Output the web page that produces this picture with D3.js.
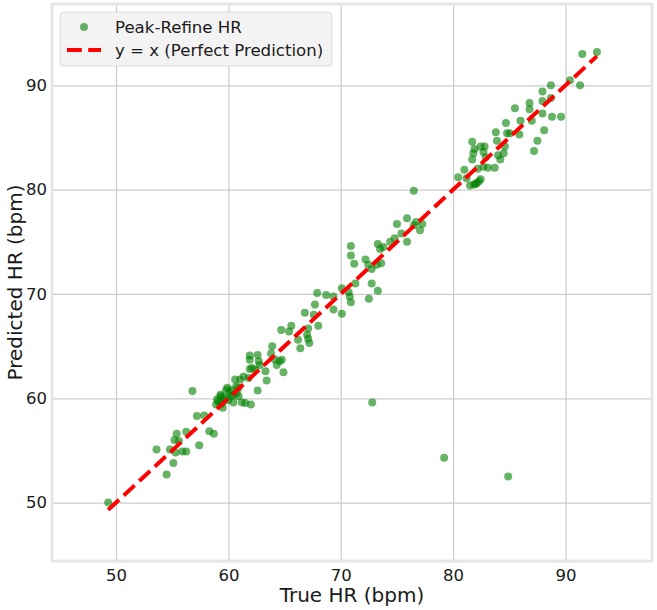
<!DOCTYPE html>
<html>
<head>
<meta charset="utf-8">
<script src="https://cdn.jsdelivr.net/npm/d3@7"></script>
<style>
body { margin: 0; background: #fff; }
svg { font-family: "DejaVu Sans", sans-serif; }
</style>
</head>
<body>
<svg width="657" height="610"></svg>
<script>
// true heart rate readings (x) and Peak-Refine predictions (y)
var trueHR = [
  49.3, 53.6, 54.5, 55.1, 54.8, 55.4, 55.2, 55.6, 56.25, 55.3, 55.9, 56.25, 57.4, 56.8, 57.2, 57.85,
  58.3, 58.7, 58.9, 59.1, 59.5, 59.3, 59.8, 60.2, 60.6, 60.45, 60.9,
  59.0, 59.9, 59.3, 59.3, 59.7, 60.3, 60.7, 60.75, 61.05, 61.2, 61.5, 62.0, 61.35, 61.8, 62.6,
  61.9, 61.9, 62.6, 62.7, 61.9, 62.4, 63.3, 63.4, 62.8, 63.9, 63.8, 64.1, 64.55, 64.75, 64.9, 64.3,
  64.7, 65.4, 65.6, 66.2, 66.4, 67.1, 67.2, 67.0, 66.8, 67.7, 67.9, 68.0, 68.7, 67.6, 67.1,
  69.35, 69.35, 70.1, 70.1, 70.7, 70.8, 70.9, 71.3, 70.9, 70.9, 71.2, 72.2, 72.45, 72.75, 72.75,
  72.5, 73.3, 73.2, 73.6, 73.3, 73.5, 73.8, 74.4, 74.8, 75.0, 75.4, 75.9, 75.9, 76.5, 76.7, 77.05,
  77.25, 76.5,
  80.45, 81.0, 81.2, 81.5, 81.85, 82.1, 82.45, 81.7, 81.9, 81.8, 81.7, 82.45, 82.8, 82.7, 82.2,
  82.7, 83.1, 83.7, 82.9, 84.0, 84.2, 84.5, 84.6, 83.9, 83.8, 84.7, 84.8, 85.05, 85.5, 85.9, 86.0,
  86.8, 86.8, 87.0, 87.2, 87.5, 88.1, 87.95, 87.95, 87.95, 88.7, 88.7, 88.8, 89.6, 90.4, 91.3,
  91.5, 92.8,
  59.6, 60.0, 60.4, 59.45, 60.1, 60.9, 62.1, 82.0, 82.3,
  72.8, 79.2, 84.9
];
var predHR = [
  50.0, 55.1, 52.7, 53.8, 55.1, 56.6, 56.0, 55.9, 56.8, 54.8, 54.9, 54.9, 55.5, 60.7, 58.3, 58.35,
  56.85, 56.6, 59.4, 59.7, 59.1, 60.35, 60.8, 60.2, 61.8, 59.6, 61.0,
  59.9, 61.0, 60.2, 59.4, 59.9, 60.8, 61.15, 60.5, 61.8, 59.6, 59.55, 59.4, 62.1, 61.95, 60.75,
  64.1, 63.7, 64.15, 63.55, 62.8, 62.75, 62.6, 61.7, 63.2, 65.0, 64.3, 63.75, 63.55, 63.7, 62.5, 63.2,
  66.55, 66.4, 66.95, 65.6, 64.8, 65.7, 65.3, 66.1, 68.2, 69.0, 70.1, 66.95, 69.9, 68.0, 66.7,
  69.75, 68.5, 68.1, 70.55, 70.2, 69.75, 69.2, 71.0, 74.6, 73.7, 72.9, 73.3, 72.8, 72.4, 71.0,
  69.55, 70.3, 72.8, 72.95, 74.8, 74.3, 74.5, 75.0, 75.35, 76.7, 75.8, 75.0, 77.25, 76.6, 76.9, 76.1,
  76.7, 79.9,
  81.2, 81.9, 81.1, 80.4, 80.5, 80.65, 81.0, 84.6, 83.9, 83.5, 82.9, 84.15, 84.15, 83.6, 82.0,
  82.2, 82.1, 82.1, 83.1, 83.3, 82.9, 83.5, 84.15, 84.7, 85.5, 86.4, 85.4, 85.4, 87.8, 85.3, 86.6,
  88.3, 87.7, 86.6, 83.7, 84.7, 85.7, 89.4, 88.5, 87.3, 90.0, 88.8, 87.0, 87.0, 90.5, 90.0,
  93.0, 93.2,
  60.1, 59.8, 60.3, 59.6, 60.6, 60.2, 62.9, 80.55, 80.8,
  59.6, 54.3, 52.5
];
var ticks = [50, 60, 70, 80, 90];
var seriesName = "Peak-Refine HR";
var lineName = "y = x (Perfect Prediction)";

var svg = d3.select("svg");
var plotL = 52, plotR = 652, plotT = 4, plotB = 561;

var x = d3.scaleLinear().domain([44.3, 97.7]).range([plotL, plotR]);
var y = d3.scaleLinear().domain([44.4, 97.8]).range([plotB, plotT]);

var points = d3.zip(trueHR, predHR);
var lo = d3.min(trueHR), hi = d3.max(trueHR);

function styleAxis(g) {
  g.select(".domain").remove();
  g.selectAll("line").attr("stroke", "#cccccc").attr("stroke-width", 1.2);
  g.selectAll("text").attr("font-size", 16.5).attr("fill", "#1a1a1a").attr("font-family", "DejaVu Sans");
}

// grid via axes
svg.append("g")
  .attr("transform", "translate(0," + plotB + ")")
  .call(d3.axisBottom(x).tickValues(ticks).tickSize(-(plotB - plotT)).tickPadding(8))
  .call(styleAxis);

svg.append("g")
  .attr("transform", "translate(" + plotL + ",0)")
  .call(d3.axisLeft(y).tickValues(ticks).tickSize(-(plotR - plotL)).tickPadding(5))
  .call(styleAxis);

// frame
svg.append("rect")
  .attr("x", plotL).attr("y", plotT)
  .attr("width", plotR - plotL).attr("height", plotB - plotT)
  .attr("fill", "none").attr("stroke", "#e6e6e6").attr("stroke-width", 3);

// points
svg.append("g").selectAll("circle")
  .data(points)
  .enter().append("circle")
  .attr("cx", function(d) { return x(d[0]); })
  .attr("cy", function(d) { return y(d[1]); })
  .attr("r", 4)
  .attr("fill", "green")
  .attr("fill-opacity", 0.6);

// y = x line
svg.append("line")
  .attr("x1", x(lo)).attr("y1", y(lo))
  .attr("x2", x(hi)).attr("y2", y(hi))
  .attr("stroke", "red")
  .attr("stroke-width", 4)
  .attr("stroke-dasharray", "14.8,6.4");

// axis labels
svg.append("text")
  .attr("x", (plotL + plotR) / 2).attr("y", 602)
  .attr("text-anchor", "middle")
  .attr("font-size", 20).attr("fill", "#1a1a1a")
  .text("True HR (bpm)");

svg.append("text")
  .attr("transform", "translate(22," + ((plotT + plotB) / 2) + ") rotate(-90)")
  .attr("text-anchor", "middle")
  .attr("font-size", 20).attr("fill", "#1a1a1a")
  .text("Predicted HR (bpm)");

// legend
var lg = svg.append("g").attr("transform", "translate(60,12)");
lg.append("rect")
  .attr("width", 272).attr("height", 54).attr("rx", 4)
  .attr("fill", "#f2f2f2").attr("fill-opacity", 0.9)
  .attr("stroke", "#dddddd").attr("stroke-width", 1);
lg.append("circle").attr("cx", 24).attr("cy", 15).attr("r", 4)
  .attr("fill", "green").attr("fill-opacity", 0.6);
lg.append("text").attr("x", 55).attr("y", 20.5).attr("font-size", 16.6).attr("fill", "#1a1a1a").text(seriesName);
lg.append("line").attr("x1", 7).attr("x2", 41).attr("y1", 38).attr("y2", 38)
  .attr("stroke", "red").attr("stroke-width", 4).attr("stroke-dasharray", "14.8,6.4");
lg.append("text").attr("x", 55).attr("y", 44).attr("font-size", 16.6).attr("fill", "#1a1a1a").text(lineName);
</script>
</body>
</html>
